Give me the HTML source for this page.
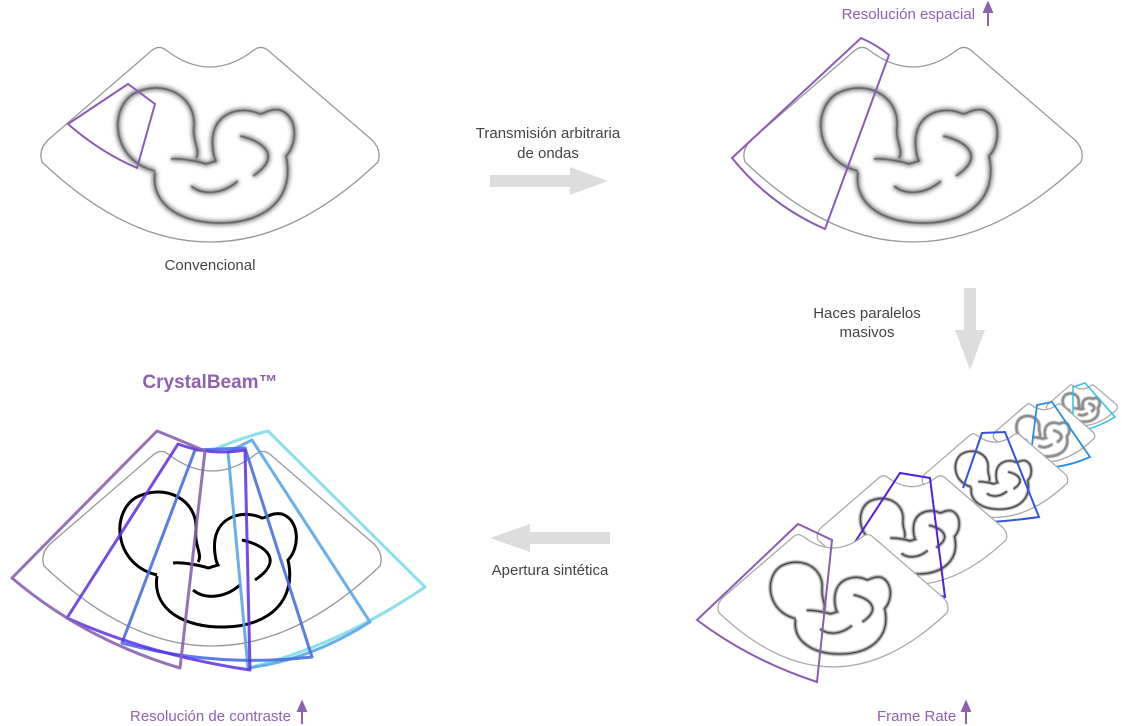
<!DOCTYPE html>
<html><head><meta charset="utf-8"><style>
html,body{margin:0;padding:0;background:#fff;}
svg{display:block;}
text{font-family:"Liberation Sans",sans-serif;}
</style></head><body>
<svg width="1122" height="726" viewBox="0 0 1122 726" xmlns="http://www.w3.org/2000/svg">
<defs>
<filter id="blur" x="-20%" y="-20%" width="140%" height="140%"><feGaussianBlur stdDeviation="2.2"/></filter>
<filter id="blur2" x="-20%" y="-20%" width="140%" height="140%"><feGaussianBlur stdDeviation="1.2"/></filter>
<filter id="blur3" x="-20%" y="-20%" width="140%" height="140%"><feGaussianBlur stdDeviation="0.6"/></filter>
<path id="fan" d="M -60,4 Q -52,-4 -44,2 Q 0,36 44,2 Q 52,-4 60,4 L 162,92 Q 172,102 168,114 Q 0,274 -168,114 Q -172,102 -162,92 Z"/>
<g id="fetus" fill="none">
<path d="M -55,123 C -97,113 -102,63 -77,46 C -47,30 -14,48 -16,78 C -18,93 -9,103 -14,110"/>
<path d="M -55,124 C -60,158 -27,176 13,175 C 58,174 85,148 76,108 C 88,96 88,68 70,62 C 60,60 54,66 50,66 C 33,58 10,63 4,83 C 1,93 3,108 6,113 L -4,116 C -12,113 -32,110 -39,111"/>
<path d="M 30,88 C 53,93 73,108 43,128"/>
<path d="M -19,138 C -7,148 13,146 28,133"/>
</g>
</defs>

<!-- Top-left conventional -->
<g transform="translate(210,48)">
<use href="#fan" fill="#fff" stroke="#999" stroke-width="1.3"/>
<use href="#fetus" stroke="#888" stroke-width="5" filter="url(#blur)"/>
<use href="#fetus" stroke="#555" stroke-width="1.5" filter="url(#blur3)"/>
</g>
<path d="M 68,124 L 128,84 L 155,104 L 137,168 Q 100,152 68,124 Z" fill="none" stroke="#8a5cb5" stroke-width="2"/>
<text x="210" y="270" font-size="15" fill="#444" text-anchor="middle">Convencional</text>

<!-- Arrow right -->
<path d="M 490,175 L 570,175 L 570,167 L 608,181 L 570,195 L 570,187 L 490,187 Z" fill="#ddd"/>
<text x="548" y="138" font-size="15" fill="#444" text-anchor="middle">Transmisión arbitraria</text>
<text x="548" y="158" font-size="15" fill="#444" text-anchor="middle">de ondas</text>

<!-- Top-right -->
<text x="975" y="19" font-size="15" fill="#9060b0" text-anchor="end">Resolución espacial</text>
<path d="M 988,26 L 988,8 M 984,12 L 988,3 L 992,12 Z" stroke="#9060b0" stroke-width="2" fill="#9060b0"/>
<g transform="translate(913,48)">
<use href="#fan" fill="#fff" stroke="#999" stroke-width="1.3"/>
<use href="#fetus" stroke="#888" stroke-width="5" filter="url(#blur)"/>
<use href="#fetus" stroke="#555" stroke-width="1.5" filter="url(#blur3)"/>
</g>
<path d="M 732,158 L 861,38 Q 877,45 889,55 L 825,229 Q 770,205 732,158 Z" fill="none" stroke="#8a5cb5" stroke-width="2"/>

<!-- Down arrow -->
<path d="M 964,288 L 976,288 L 976,330 L 985,330 L 970,370 L 955,330 L 964,330 Z" fill="#ddd"/>
<text x="867" y="318" font-size="15" fill="#444" text-anchor="middle">Haces paralelos</text>
<text x="867" y="337" font-size="15" fill="#444" text-anchor="middle">masivos</text>

<!-- Stacked frames (back to front) -->
<g transform="translate(1082,385) scale(0.21)">
<use href="#fan" fill="#fff" stroke="#aaa" stroke-width="6"/>
<use href="#fetus" stroke="#888" stroke-width="14" filter="url(#blur)"/>
</g>
<path d="M 1073,417 L 1073,387 L 1085,383 L 1115,417 Q 1100,426 1088,429" fill="none" stroke="#30c0e0" stroke-width="1.5"/>
<g transform="translate(1044,404) scale(0.30)">
<use href="#fan" fill="#fff" stroke="#aaa" stroke-width="4.5"/>
<use href="#fetus" stroke="#888" stroke-width="10" filter="url(#blur)"/>
</g>
<path d="M 1032,445 L 1037,405 L 1052,402 L 1090,457 Q 1072,465 1055,467" fill="none" stroke="#2a8ee0" stroke-width="1.8"/>
<g transform="translate(995,434) scale(0.43)">
<use href="#fan" fill="#fff" stroke="#aaa" stroke-width="3"/>
<use href="#fetus" stroke="#888" stroke-width="7" filter="url(#blur2)"/>
<use href="#fetus" stroke="#444" stroke-width="2.5"/>
</g>
<path d="M 963,488 L 982,433 L 1005,432 L 1039,517 Q 1010,521 990,522" fill="none" stroke="#3355dd" stroke-width="2"/>
<g transform="translate(912,476) scale(0.56)">
<use href="#fan" fill="#fff" stroke="#aaa" stroke-width="2.3"/>
<use href="#fetus" stroke="#888" stroke-width="6" filter="url(#blur2)"/>
<use href="#fetus" stroke="#444" stroke-width="2"/>
</g>
<path d="M 853,545 L 900,473 L 930,478 L 945,597 Q 925,592 905,585" fill="none" stroke="#5020e0" stroke-width="2"/>
<g transform="translate(833,535) scale(0.68)">
<use href="#fan" fill="#fff" stroke="#aaa" stroke-width="1.9"/>
<use href="#fetus" stroke="#888" stroke-width="5" filter="url(#blur2)"/>
<use href="#fetus" stroke="#444" stroke-width="1.6"/>
</g>
<path d="M 697,620 L 798,524 L 832,540 L 817,682 Q 750,660 697,620 Z" fill="none" stroke="#8a5cb5" stroke-width="2"/>
<text x="877" y="721" font-size="15" fill="#9060b0">Frame Rate</text>
<path d="M 966,724 L 966,708 M 962,711 L 966,702 L 970,711 Z" stroke="#9060b0" stroke-width="2" fill="#9060b0"/>

<!-- Left arrow -->
<path d="M 610,532 L 530,532 L 530,524 L 490,538 L 530,552 L 530,544 L 610,544 Z" fill="#ddd"/>
<text x="550" y="575" font-size="15" fill="#444" text-anchor="middle">Apertura sintética</text>

<!-- CrystalBeam -->
<text x="210" y="388" font-size="19" font-weight="bold" fill="#9060b0" text-anchor="middle">CrystalBeam™</text>
<g transform="translate(212,452)">
<use href="#fan" fill="#fff" stroke="#999" stroke-width="1.3"/>
<use href="#fetus" stroke="#000" stroke-width="3"/>
</g>
<g fill="none" stroke-width="3" stroke-linejoin="round">
<path d="M 213,450 Q 240,438 268,431 L 425,587 Q 340,645 248,668" stroke="#7fdcea" opacity="0.9"/>
<path d="M 228,452 Q 240,446 252,440 L 370,622 Q 310,660 248,668 Z" stroke="#5aa6e8" opacity="0.9"/>
<path d="M 122,643 L 195,450 L 245,448 L 312,657 Q 215,668 122,643 Z" stroke="#4a6fe0" opacity="0.9"/>
<path d="M 67,618 L 178,444 Q 210,456 245,450 L 250,670 Q 150,655 67,618 Z" stroke="#5b2ee6" opacity="0.85"/>
<path d="M 12,578 L 157,431 Q 182,441 205,451 L 180,668 Q 85,640 12,578 Z" stroke="#8a63b0" opacity="0.9"/>
</g>
<text x="130" y="721" font-size="15" fill="#9060b0">Resolución de contraste</text>
<path d="M 302,724 L 302,708 M 298,711 L 302,702 L 306,711 Z" stroke="#9060b0" stroke-width="2" fill="#9060b0"/>
</svg>
</body></html>
